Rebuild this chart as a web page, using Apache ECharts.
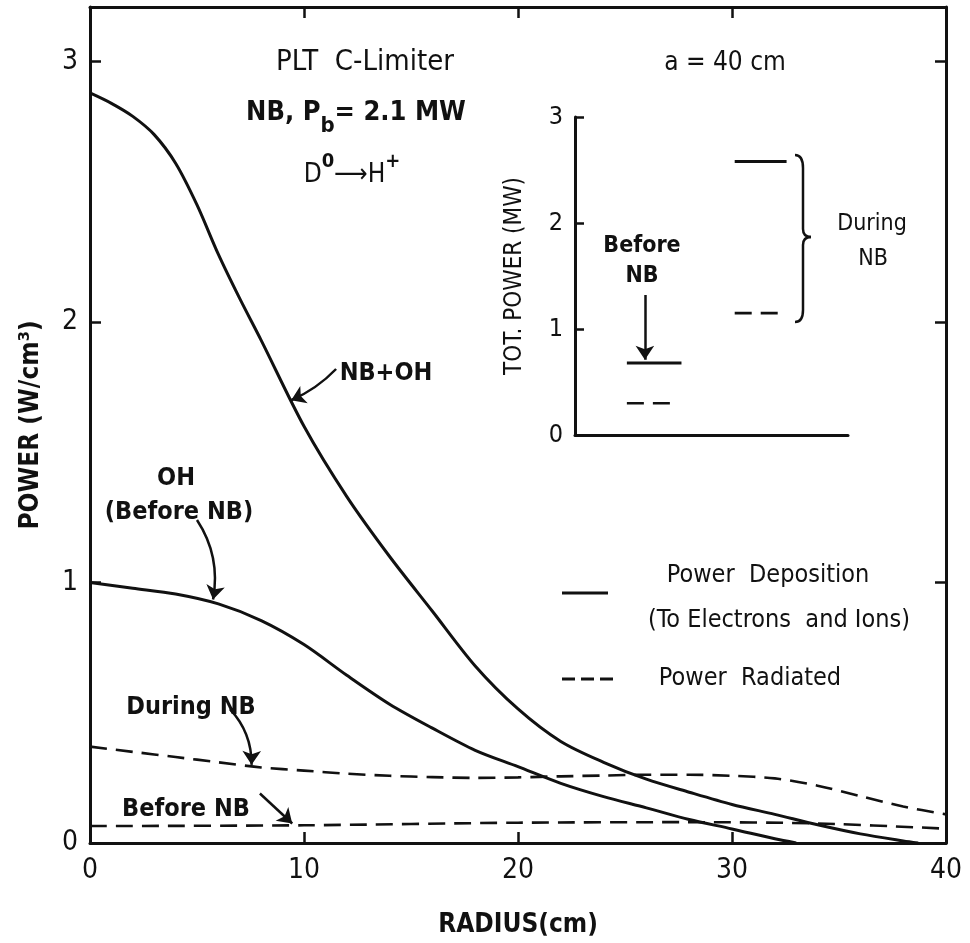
<!DOCTYPE html>
<html>
<head>
<meta charset="utf-8">
<title>PLT C-Limiter power profiles</title>
<script src="https://cdn.jsdelivr.net/npm/echarts@6/dist/echarts.min.js"></script>
<style>
  html, body { margin: 0; padding: 0; background: #fff; }
  #chart { width: 970px; height: 943px; }
</style>
</head>
<body>
<div id="chart"></div>
<script>
// radial profiles: radius (cm) -> power (W/cm^3)
const nbOhRadius = [0, 1, 2, 3, 4, 5, 6, 7, 8, 10, 12, 14, 16, 18, 20, 22, 24, 26, 28, 30, 32, 34, 36, 38, 38.7];
const nbOhPower = [2.88, 2.84, 2.79, 2.72, 2.61, 2.45, 2.26, 2.09, 1.93, 1.60, 1.33, 1.10, 0.89, 0.68, 0.515, 0.39, 0.31, 0.245, 0.195, 0.148, 0.11, 0.07, 0.035, 0.008, 0];

const ohRadius = [0, 2, 4, 6, 8, 10, 12, 14, 16, 18, 20, 22, 24, 26, 28, 30, 32, 33];
const ohPower = [1.0, 0.978, 0.956, 0.918, 0.854, 0.762, 0.644, 0.533, 0.441, 0.356, 0.293, 0.229, 0.178, 0.135, 0.09, 0.054, 0.016, 0];

const radDuringRadius = [0, 2, 4, 6, 8, 10, 12, 14, 16, 18, 20, 22, 24, 26, 28, 30, 32, 34, 36, 38, 40];
const radDuringPower = [0.37, 0.35, 0.33, 0.31, 0.29, 0.278, 0.266, 0.258, 0.253, 0.25, 0.252, 0.256, 0.259, 0.262, 0.262, 0.258, 0.248, 0.22, 0.18, 0.14, 0.11];

const radBeforeRadius = [0, 10, 20, 28, 34, 40];
const radBeforePower = [0.065, 0.068, 0.078, 0.08, 0.075, 0.055];

// inset: total power (MW)
const insetGroups = ['Before NB', 'During NB'];
const totDeposited = [0.68, 2.58];
const totRadiated = [0.30, 1.15];

const FONT = "'DejaVu Sans Condensed', 'Liberation Sans Narrow', 'DejaVu Sans', sans-serif";
const BLACK = '#111';

function pairs(xs, ys) {
  return xs.map((x, i) => [x, ys[i]]);
}

const solid = { color: BLACK, width: 3, type: 'solid' };
const dashed = { color: BLACK, width: 2.6, type: [17, 9] };

function curve(name, xs, ys, style) {
  return {
    name: name,
    type: 'line',
    xAxisIndex: 0,
    yAxisIndex: 0,
    smooth: 0.3,
    showSymbol: false,
    lineStyle: style,
    data: pairs(xs, ys)
  };
}

// horizontal position of each inset bar along the dummy inset x axis
const insetSpan = [[1.9, 3.9], [5.85, 7.75]];

let series = [
  curve('NB+OH', nbOhRadius, nbOhPower, solid),
  curve('OH (Before NB)', ohRadius, ohPower, solid),
  curve('Radiated during NB', radDuringRadius, radDuringPower, dashed),
  curve('Radiated before NB', radBeforeRadius, radBeforePower, dashed)
];

insetGroups.forEach(function (g, i) {
  series.push({
    name: g + ' deposited', type: 'line', xAxisIndex: 1, yAxisIndex: 2,
    showSymbol: false, lineStyle: solid,
    data: [[insetSpan[i][0], totDeposited[i]], [insetSpan[i][1], totDeposited[i]]]
  });
  series.push({
    name: g + ' radiated', type: 'line', xAxisIndex: 1, yAxisIndex: 2,
    showSymbol: false, lineStyle: dashed,
    data: [[insetSpan[i][0], totRadiated[i]], [insetSpan[i][1] - 0.15, totRadiated[i]]]
  });
});

// annotation arrows
series.push({
  type: 'lines', coordinateSystem: 'cartesian2d', xAxisIndex: 0, yAxisIndex: 0,
  symbol: ['none', 'arrow'], symbolSize: 14, z: 5,
  lineStyle: { color: BLACK, width: 2.5, opacity: 1 },
  data: [
    { coords: [[11.5, 1.82], [9.4, 1.70]], lineStyle: { curveness: 0.1 } },
    { coords: [[5.0, 1.24], [5.75, 0.935]], lineStyle: { curveness: 0.2 } },
    { coords: [[6.54, 0.514], [7.55, 0.30]], lineStyle: { curveness: 0.2 } },
    { coords: [[7.94, 0.19], [9.45, 0.075]], lineStyle: { curveness: 0 } }
  ]
});
series.push({
  type: 'lines', coordinateSystem: 'cartesian2d', xAxisIndex: 1, yAxisIndex: 2,
  symbol: ['none', 'arrow'], symbolSize: 14, z: 5,
  lineStyle: { color: BLACK, width: 2.5, opacity: 1 },
  data: [{ coords: [[2.56, 1.32], [2.56, 0.71]] }]
});

const axisLine = { show: true, onZero: false, lineStyle: { color: BLACK, width: 3 } };
const tickIn = { show: true, inside: true, length: 11, lineStyle: { color: BLACK, width: 2.5 } };
const labelStyle = { color: BLACK, fontFamily: FONT, fontSize: 28 };

function txt(text, x, y, size, weight) {
  return {
    type: 'text',
    z: 10,
    style: {
      text: text, x: x, y: y,
      fontFamily: FONT, fontSize: size, fontWeight: weight || 'normal',
      fill: BLACK,
      align: 'center', textAlign: 'center',
      verticalAlign: 'middle', textVerticalAlign: 'middle'
    }
  };
}

function richTxt(text, x, y, rich) {
  return {
    type: 'text', z: 10,
    style: {
      text: text, x: x, y: y, rich: rich,
      fontFamily: FONT, fill: BLACK,
      align: 'center', textAlign: 'center',
      verticalAlign: 'middle', textVerticalAlign: 'middle'
    }
  };
}

const chart = echarts.init(document.getElementById('chart'), null, { renderer: 'canvas' });

const option = {
  backgroundColor: '#fff',
  animation: false,
  grid: [
    { left: 90, top: 7, width: 856, height: 855 },
    { left: 575, top: 117, width: 273, height: 318 }
  ],
  xAxis: [
    {
      gridIndex: 0, type: 'value', min: 0, max: 40, interval: 10, position: 'bottom',
      axisLine: axisLine, axisTick: tickIn, splitLine: { show: false },
      axisLabel: Object.assign({ margin: 14 }, labelStyle),
      name: 'RADIUS(cm)', nameLocation: 'middle', nameGap: 69,
      nameTextStyle: { color: BLACK, fontFamily: FONT, fontSize: 26, fontWeight: 'bold' }
    },
    {
      gridIndex: 1, type: 'value', min: 0, max: 10,
      axisLine: axisLine, axisTick: { show: false }, axisLabel: { show: false },
      splitLine: { show: false }
    },
    {
      gridIndex: 0, type: 'value', min: 0, max: 40, interval: 10, position: 'top',
      axisLine: axisLine, axisTick: tickIn, axisLabel: { show: false }, splitLine: { show: false }
    }
  ],
  yAxis: [
    {
      gridIndex: 0, type: 'value', min: 0, max: 3.21, interval: 1, position: 'left',
      axisLine: axisLine, axisTick: tickIn, splitLine: { show: false },
      axisLabel: Object.assign({ margin: 12, showMaxLabel: false }, labelStyle),
      name: 'POWER (W/cm³)', nameLocation: 'middle', nameGap: 46, nameRotate: 90,
      nameTextStyle: { color: BLACK, fontFamily: FONT, fontSize: 26, fontWeight: 'bold' }
    },
    {
      gridIndex: 0, type: 'value', min: 0, max: 3.21, interval: 1, position: 'right',
      axisLine: axisLine, axisTick: tickIn, axisLabel: { show: false }, splitLine: { show: false }
    },
    {
      gridIndex: 1, type: 'value', min: 0, max: 3, interval: 1, position: 'left',
      axisLine: axisLine, axisTick: Object.assign({}, tickIn, { length: 9 }),
      splitLine: { show: false },
      axisLabel: { color: BLACK, fontFamily: FONT, fontSize: 25, margin: 12 },
      name: 'TOT. POWER (MW)', nameLocation: 'middle', nameGap: 48, nameRotate: 90,
      nameTextStyle: { color: BLACK, fontFamily: FONT, fontSize: 24 }
    }
  ],
  series: series,
  graphic: [
    txt('PLT  C-Limiter', 365, 62, 29),
    richTxt('{n|NB, P}{s|b}{n|= 2.1 MW}', 356, 114, {
      n: { fontFamily: FONT, fontSize: 27, fontWeight: 'bold', lineHeight: 30, verticalAlign: 'top' },
      s: { fontFamily: FONT, fontSize: 22, fontWeight: 'bold', lineHeight: 22, padding: [16, 0, 0, 0], verticalAlign: 'top' }
    }),
    richTxt('{n|D}{p|0}{n|⟶}{n|H}{p|+}', 352, 166, {
      n: { fontFamily: FONT, fontSize: 26, lineHeight: 28, padding: [10, 0, 0, 0], verticalAlign: 'top' },
      p: { fontFamily: FONT, fontSize: 20, fontWeight: 'bold', lineHeight: 20, verticalAlign: 'top' }
    }),
    txt('a = 40 cm', 725, 63, 26),
    txt('NB+OH', 386, 373, 25, 'bold'),
    txt('OH', 176, 478, 25, 'bold'),
    txt('(Before NB)', 179, 512, 25, 'bold'),
    txt('During NB', 191, 707, 25, 'bold'),
    txt('Before NB', 186, 809, 25, 'bold'),
    txt('Before', 642, 246, 23, 'bold'),
    txt('NB', 642, 276, 23, 'bold'),
    txt('During', 872, 224, 23),
    txt('NB', 873, 259, 23),
    // legend
    { type: 'line', z: 10, shape: { x1: 562, y1: 593, x2: 608, y2: 593 }, style: { stroke: BLACK, lineWidth: 3 } },
    txt('Power  Deposition', 768, 575, 25),
    txt('(To Electrons  and Ions)', 779, 620, 25),
    { type: 'line', z: 10, shape: { x1: 562, y1: 679, x2: 614, y2: 679 }, style: { stroke: BLACK, lineWidth: 3, lineDash: [13, 6] } },
    txt('Power  Radiated', 750, 678, 25),
    // brace grouping the "During NB" bars
    {
      type: 'group', z: 10,
      children: [
        { type: 'bezierCurve', shape: { x1: 795, y1: 155, cpx1: 803, cpy1: 155, x2: 803, y2: 168 }, style: { stroke: BLACK, lineWidth: 2.5, fill: null } },
        { type: 'line', shape: { x1: 803, y1: 168, x2: 803, y2: 229 }, style: { stroke: BLACK, lineWidth: 2.5 } },
        { type: 'bezierCurve', shape: { x1: 803, y1: 229, cpx1: 803, cpy1: 237, x2: 811, y2: 237 }, style: { stroke: BLACK, lineWidth: 2.5, fill: null } },
        { type: 'bezierCurve', shape: { x1: 811, y1: 237, cpx1: 803, cpy1: 237, x2: 803, y2: 245 }, style: { stroke: BLACK, lineWidth: 2.5, fill: null } },
        { type: 'line', shape: { x1: 803, y1: 245, x2: 803, y2: 310 }, style: { stroke: BLACK, lineWidth: 2.5 } },
        { type: 'bezierCurve', shape: { x1: 803, y1: 310, cpx1: 803, cpy1: 322, x2: 795, y2: 322 }, style: { stroke: BLACK, lineWidth: 2.5, fill: null } }
      ]
    }
  ]
};

chart.setOption(option);
</script>
</body>
</html>
